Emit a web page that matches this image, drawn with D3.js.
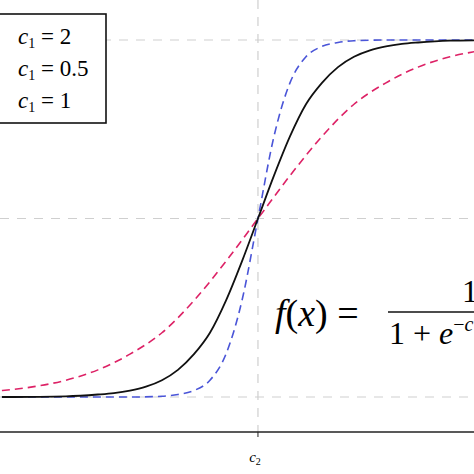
<!DOCTYPE html>
<html><head><meta charset="utf-8">
<script src="https://cdn.jsdelivr.net/npm/d3@7"></script>
<style>body{margin:0;background:#fff}</style>
</head><body>
<script>
// values (x in units around c2)
const xsBlue = [-8,-4,-3,-2.5,-2,-1.5,-1,-0.5,0,0.5,1,1.5,2,2.5,3,4,6.8];
const ysBlue = [0,0,0.002,0.007,0.018,0.047,0.12,0.27,0.5,0.73,0.88,0.953,0.982,0.993,0.998,1,1];
const xsBlack = [-8,-6,-5,-4.5,-4,-3.5,-3,-2.5,-2,-1.5,-1,-0.5,0,0.5,1,1.5,2,2.5,3,3.5,4,4.5,5,6,6.8];
const ysBlack = [0,0.002,0.007,0.011,0.018,0.029,0.047,0.076,0.12,0.18,0.27,0.38,0.5,0.62,0.73,0.82,0.88,0.924,0.953,0.971,0.982,0.989,0.993,0.998,0.999];
const xsPink = [-8,-7,-6,-5,-4,-3,-2,-1,0,1,2,3,4,5,6,6.8];
const ysPink = [0.018,0.029,0.047,0.076,0.12,0.18,0.27,0.38,0.5,0.62,0.73,0.82,0.88,0.924,0.953,0.968];
const legendLabels = ["2", "0.5", "1"];

const W = 474, H = 474;
const svg = d3.select("body").append("svg").attr("width", W).attr("height", H);
const x = d3.scaleLinear().domain([-8.06, 6.75]).range([0, W]);
const y = d3.scaleLinear().domain([0, 1]).range([397, 40]);
const serif = "'Liberation Serif', 'DejaVu Serif', serif";

// grid
const grid = svg.append("g").attr("stroke", "#cfcfcf").attr("stroke-dasharray", "9,8").attr("stroke-width", 1.2);
[0, 0.5, 1].forEach(v => grid.append("line").attr("x1", 0).attr("x2", W).attr("y1", y(v)).attr("y2", y(v)));
grid.append("line").attr("x1", x(0)).attr("x2", x(0)).attr("y1", 0).attr("y2", 432);

// x axis
svg.append("line").attr("x1", 0).attr("x2", W).attr("y1", 432).attr("y2", 432).attr("stroke", "#222").attr("stroke-width", 1.6);
svg.append("line").attr("x1", x(0)).attr("x2", x(0)).attr("y1", 432).attr("y2", 437).attr("stroke", "#222");
svg.append("text").attr("x", x(0) - 3).attr("y", 462).attr("text-anchor", "middle")
  .style("font-family", serif).style("font-style", "italic").style("font-size", "15px")
  .html('c<tspan font-size="10" dy="3" font-style="normal">2</tspan>');

const line = d3.line().x(d => x(d[0])).y(d => y(d[1])).curve(d3.curveMonotoneX);
svg.append("path").datum(d3.zip(xsPink, ysPink)).attr("d", line).attr("fill", "none")
  .attr("stroke", "#dd2266").attr("stroke-width", 1.6).attr("stroke-dasharray", "8,5");
svg.append("path").datum(d3.zip(xsBlue, ysBlue)).attr("d", line).attr("fill", "none")
  .attr("stroke", "#4a55d8").attr("stroke-width", 1.6).attr("stroke-dasharray", "8,5");
svg.append("path").datum(d3.zip(xsBlack, ysBlack)).attr("d", line).attr("fill", "none")
  .attr("stroke", "#111").attr("stroke-width", 1.8);

// legend
svg.append("rect").attr("x", -5).attr("y", 14).attr("width", 111).attr("height", 109)
  .attr("fill", "#fff").attr("stroke", "#111").attr("stroke-width", 1.6);
legendLabels.forEach((l, i) => {
  const t = svg.append("text").attr("x", 18).attr("y", 44 + i * 32)
    .style("font-family", serif).style("font-size", "23px");
  t.append("tspan").style("font-style", "italic").text("c");
  t.append("tspan").attr("font-size", 14).attr("dy", 4).text("1");
  t.append("tspan").attr("dy", -4).text(" = " + l);
});

// formula
const f = svg.append("text").attr("x", 275).attr("y", 326).style("font-family", serif).style("font-size", "38px");
f.append("tspan").style("font-style", "italic").text("f");
f.append("tspan").text("(");
f.append("tspan").style("font-style", "italic").text("x");
f.append("tspan").text(") =");
svg.append("line").attr("x1", 388).attr("x2", W).attr("y1", 312).attr("y2", 312).attr("stroke", "#111").attr("stroke-width", 1.6);
svg.append("text").attr("x", 462).attr("y", 302).style("font-family", serif).style("font-size", "32px").text("1");
const den = svg.append("text").attr("x", 389).attr("y", 344).style("font-family", serif).style("font-size", "32px");
den.append("tspan").text("1 + ");
den.append("tspan").style("font-style", "italic").text("e");
den.append("tspan").attr("font-size", 20).attr("dy", -13).text("−");
den.append("tspan").attr("font-size", 20).style("font-style", "italic").text("c");
den.append("tspan").attr("font-size", 13).attr("dy", 4).text("1");
</script>
</body></html>
